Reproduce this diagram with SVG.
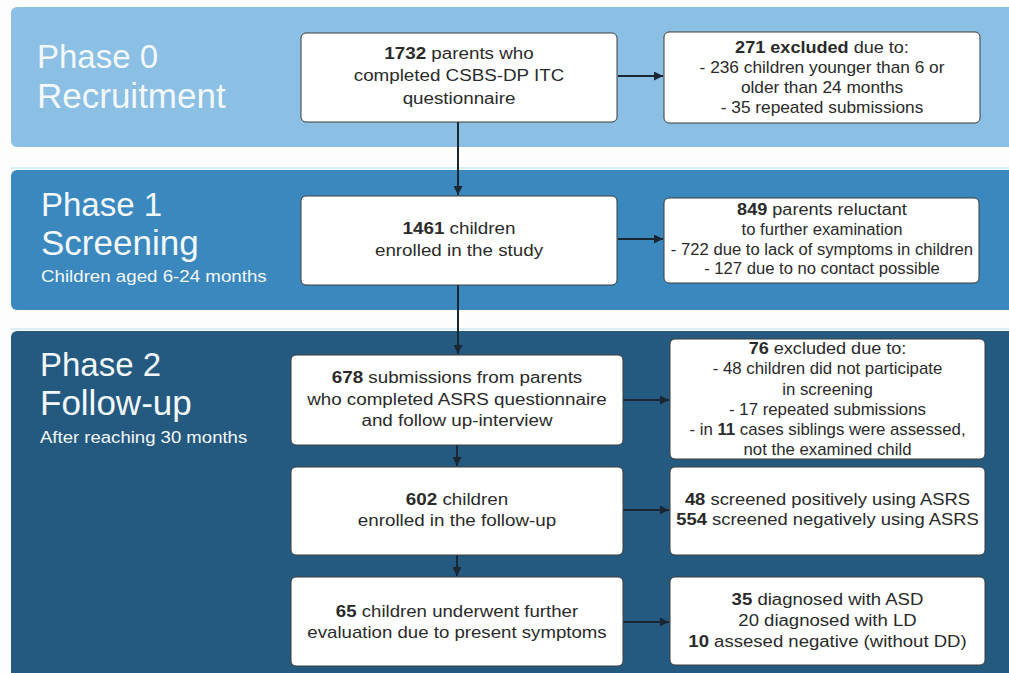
<svg xmlns="http://www.w3.org/2000/svg" width="1009" height="673" viewBox="0 0 1009 673">
<defs>
<style>
.bg{fill:#fdfdfd}
.band0{fill:#8bbfe3}
.band1{fill:#3b88bf}
.band2{fill:#245a80}
.sep{stroke:#cfe8f5;stroke-width:1.5}
.box{fill:#ffffff;stroke:#3c3c3c;stroke-width:1}
.t{font-family:"Liberation Sans",Arial,sans-serif;font-size:16px;fill:#2a2a2a;text-anchor:middle}
.ph{font-family:"Liberation Sans",Arial,sans-serif;fill:#f3f8fc}
.big{font-size:33px}
.big2{font-size:35px}
.sub{font-size:16px}
.conn{stroke:#1b2633;stroke-width:2;fill:none;marker-end:url(#ah)}
</style>
<marker id="ah" viewBox="0 0 10 10" refX="10" refY="5" markerWidth="9" markerHeight="9" markerUnits="userSpaceOnUse" orient="auto">
<path d="M0,0 L10,5 L0,10 z" fill="#1b2633"/>
</marker>
</defs>
<rect class="bg" x="0" y="0" width="1009" height="673"/>

<g id="phase0">
<rect class="band0" x="11" y="7" width="1010" height="140" rx="6"/>
<text class="ph big" x="37" y="68">Phase 0</text>
<text class="ph big2" x="37" y="108">Recruitment</text>
</g>
<line class="sep" x1="11" y1="168" x2="1009" y2="168"/>
<g id="phase1">
<rect class="band1" x="11" y="170" width="1010" height="140" rx="6"/>
<text class="ph big" x="41" y="216">Phase 1</text>
<text class="ph big2" x="41" y="255">Screening</text>
<text class="ph sub" x="41" y="282" transform="translate(41 0) scale(1.17 1) translate(-41 0)">Children aged 6-24 months</text>
</g>
<line class="sep" x1="11" y1="329" x2="1009" y2="329"/>
<g id="phase2">
<rect class="band2" x="11" y="331" width="1010" height="360" rx="6"/>
<text class="ph big" x="40" y="376">Phase 2</text>
<text class="ph big2" x="40" y="415">Follow-up</text>
<text class="ph sub" x="40" y="443" transform="translate(40 0) scale(1.16 1) translate(-40 0)">After reaching 30 months</text>
</g>

<g id="connectors">
<path class="conn" d="M458,122 L458,195"/>
<path class="conn" d="M618,76 L663,76"/>
<path class="conn" d="M458,285 L458,354"/>
<path class="conn" d="M618,239 L663,239"/>
<path class="conn" d="M623,400 L669,400"/>
<path class="conn" d="M457,445 L457,466"/>
<path class="conn" d="M623,510 L669,510"/>
<path class="conn" d="M457,555 L457,576"/>
<path class="conn" d="M623,622 L669,622"/>
</g>

<g id="n1732">
<rect class="box" x="301" y="33" width="316" height="89" rx="5"/>
<g transform="translate(459 0) scale(1.175 1)">
<text class="t" x="0" y="59"><tspan font-weight="bold">1732</tspan> parents who</text>
<text class="t" x="0" y="81.5">completed CSBS-DP ITC</text>
<text class="t" x="0" y="104">questionnaire</text>
</g>
</g>

<g id="n271">
<rect class="box" x="664" y="32" width="316" height="91" rx="5"/>
<text class="t" y="53" transform="translate(822 0) scale(1.13 1)"><tspan font-weight="bold">271 excluded</tspan> due to:</text>
<g transform="translate(822 0) scale(1.08 1)">
<text class="t" x="0" y="73">- 236 children younger than 6 or</text>
<text class="t" x="0" y="93">older than 24 months</text>
<text class="t" x="0" y="113">- 35 repeated submissions</text>
</g>
</g>

<g id="n1461">
<rect class="box" x="301" y="196" width="316" height="89" rx="5"/>
<g transform="translate(459 0) scale(1.175 1)">
<text class="t" x="0" y="234"><tspan font-weight="bold">1461</tspan> children</text>
<text class="t" x="0" y="256">enrolled in the study</text>
</g>
</g>

<g id="n849">
<rect class="box" x="664" y="198" width="315" height="85" rx="5"/>
<text class="t" y="215" transform="translate(822 0) scale(1.13 1)"><tspan font-weight="bold">849</tspan> parents reluctant</text>
<g transform="translate(822 0) scale(1.04 1)">
<text class="t" x="0" y="235">to further examination</text>
<text class="t" x="0" y="255">- 722 due to lack of symptoms in children</text>
<text class="t" x="0" y="274">- 127 due to no contact possible</text>
</g>
</g>

<g id="n678">
<rect class="box" x="291" y="355" width="332" height="90" rx="5"/>
<g transform="translate(457 0) scale(1.175 1)">
<text class="t" x="0" y="383"><tspan font-weight="bold">678</tspan> submissions from parents</text>
<text class="t" x="0" y="405">who completed ASRS questionnaire</text>
<text class="t" x="0" y="426">and follow up-interview</text>
</g>
</g>

<g id="n76">
<rect class="box" x="670" y="339" width="315" height="120" rx="5"/>
<text class="t" y="354" transform="translate(827.5 0) scale(1.13 1)"><tspan font-weight="bold">76</tspan> excluded due to:</text>
<g transform="translate(827.5 0) scale(1.05 1)">
<text class="t" x="0" y="374.5">- 48 children did not participate</text>
<text class="t" x="0" y="395">in screening</text>
<text class="t" x="0" y="415">- 17 repeated submissions</text>
<text class="t" x="0" y="435">- in <tspan font-weight="bold">11</tspan> cases siblings were assessed,</text>
<text class="t" x="0" y="455">not the examined child</text>
</g>
</g>

<g id="n602">
<rect class="box" x="291" y="467" width="332" height="88" rx="5"/>
<g transform="translate(457 0) scale(1.175 1)">
<text class="t" x="0" y="505"><tspan font-weight="bold">602</tspan> children</text>
<text class="t" x="0" y="526">enrolled in the follow-up</text>
</g>
</g>

<g id="n48">
<rect class="box" x="670" y="467" width="315" height="88" rx="5"/>
<g transform="translate(827.5 0) scale(1.15 1)">
<text class="t" x="0" y="505" font-size="16.5"><tspan font-weight="bold">48</tspan> screened positively using ASRS</text>
<text class="t" x="0" y="525" font-size="16.5"><tspan font-weight="bold">554</tspan> screened negatively using ASRS</text>
</g>
</g>

<g id="n65">
<rect class="box" x="291" y="577" width="332" height="89" rx="5"/>
<g transform="translate(457 0) scale(1.165 1)">
<text class="t" x="0" y="617"><tspan font-weight="bold">65</tspan> children underwent further</text>
<text class="t" x="0" y="638">evaluation due to present symptoms</text>
</g>
</g>

<g id="n35">
<rect class="box" x="670" y="577" width="315" height="88" rx="5"/>
<g transform="translate(827.5 0) scale(1.16 1)">
<text class="t" x="0" y="605"><tspan font-weight="bold">35</tspan> diagnosed with ASD</text>
<text class="t" x="0" y="626">20 diagnosed with LD</text>
<text class="t" x="0" y="647"><tspan font-weight="bold">10</tspan> assesed negative (without DD)</text>
</g>
</g>
</svg>
